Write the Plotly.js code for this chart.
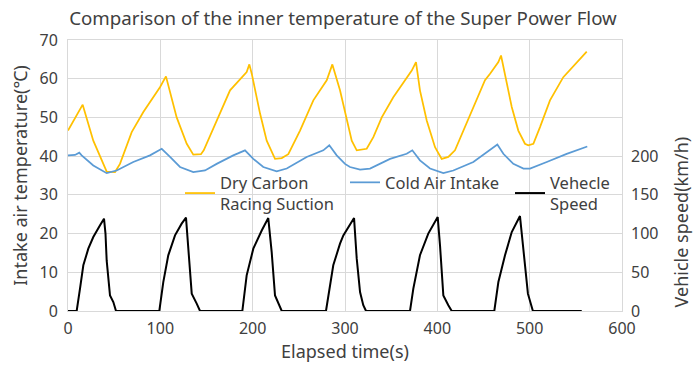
<!DOCTYPE html>
<html>
<head>
<meta charset="utf-8">
<script src="https://cdn.plot.ly/plotly-3.0.1.min.js"></script>
<style>html,body{margin:0;padding:0;background:#fff;}#chart{width:700px;height:375px;}</style>
</head>
<body>
<div id="chart"></div>
<script>
// Dry Carbon Racing Suction (intake air temperature, °C)
const dryTime = [0,15.9,27.4,41.9,50.9,56.3,69,81.6,99.6,106.1,117.7,128.6,135.7,144,147,161,175.5,193.5,196.4,199,208,215.2,224.2,231.5,238.6,251.3,265.7,280.2,286.3,294.6,301.8,307.3,312.7,323.5,330.7,339.8,352.3,366.8,372.3,376.9,381.2,388.5,397.5,404.7,411.9,419.1,428.1,439,451.6,457.1,466.1,469,473.3,480.6,487.7,494.9,498.5,504,511.2,522,536.4,550.9,561.8];
const dryTemp = [46.6,53.3,44,36,35.9,38,46.2,51.4,57.8,60.6,50,43.2,40.4,40.5,41.5,49.2,57,61.7,63.7,61.3,51,44,39.3,39.5,40.5,46.6,54.4,59.6,63.7,57,49.2,44,41.5,41.9,44.9,50,55.2,60.4,62.1,64.3,57,49.2,42.3,39.3,39.8,41.5,46.6,52.7,59.6,61.3,64.3,66,61.3,52.7,46.6,43.2,42.8,43.2,47.5,54.4,60.4,64.3,67];

// Cold Air Intake (intake air temperature, °C)
const coldTime = [0,7.6,12.2,14.8,27.4,41.9,52.7,70.7,88.8,101.5,110.5,121.3,135.7,148.4,161,179,191.7,200.7,211.5,226,236.9,258.5,276.5,283,291,300,305.4,316.3,327.1,348.8,366.8,372.9,381.2,392.1,406.5,417.3,439,451.6,457.1,465,471.5,482.3,493.3,500.4,518.5,540.1,562.4];
const coldTemp = [40.2,40.3,40.9,40.2,37.6,35.6,36.3,38.5,40.2,41.9,39.8,37.2,35.9,36.3,38,40.2,41.5,39.3,37.2,36.1,36.8,39.8,41.5,42.8,40.2,38,37.2,36.5,36.8,39.3,40.6,41.5,38.9,36.8,35.6,36.3,38.5,40.6,41.5,43,40.6,38,36.8,36.8,38.5,40.6,42.5];

// Vehicle speed (km/h)
const speedTime = [0,9.4,13,16.6,22,27.4,34.7,39,40.6,41.9,45.5,49.1,52,98.9,103.2,108.6,115.9,123.1,127.8,130.3,134,139.4,143,188.8,193.5,200.7,209.8,216.9,220.6,224.2,231.5,279.4,287.3,294.6,298.2,309.8,312.7,316.3,319.8,322.8,370.4,374,381.2,390.2,400.4,402.9,406.5,411.9,415.6,461.7,466.1,473.3,480.6,489.5,493.3,498.1,503.5,556.4];
const speedVal = [0,0,28.9,59,80.5,95.5,110.6,119.2,100,65,20,11.6,0,0,37.4,71.9,97.7,112.8,120.5,84.8,22.4,9.5,0,0,46,80.5,104,120,76,20,0,0,59,87,97.7,120,67.6,24.5,7.4,0,0,28.9,72,100,121.3,84.8,20,7.4,0,0,37.4,72,102,122.6,80.5,22.4,0,0];

const seriesNames = ['Dry Carbon<br>Racing Suction', 'Cold Air Intake', 'Vehecle<br>Speed'];
const titleText = 'Comparison of the inner temperature of the Super Power Flow';
const xTitle = 'Elapsed time(s)';
const yTitle = 'Intake air temperature(℃)';
const y2Title = 'Vehicle speed(km/h)';
const speedTicks = [0,50,100,150,200];

const FONT = 'Noto Sans, sans-serif';
const TXT = '#404040';
const GRID = '#d9d9d9';

const traces = [
  {x: dryTime, y: dryTemp, name: seriesNames[0], type: 'scatter', mode: 'lines', line: {color: '#FFC000', width: 1.75}},
  {x: coldTime, y: coldTemp, name: seriesNames[1], type: 'scatter', mode: 'lines', line: {color: '#5B9BD5', width: 1.75}},
  {x: speedTime, y: speedVal, name: seriesNames[2], type: 'scatter', mode: 'lines', yaxis: 'y2', line: {color: '#000000', width: 2}}
];

const layout = {
  width: 700, height: 375,
  margin: {l: 68, r: 78, t: 40, b: 64, pad: 0},
  paper_bgcolor: '#fff', plot_bgcolor: '#fff',
  font: {family: FONT, color: TXT, size: 16},
  title: {text: titleText, x: 0.49, xanchor: 'center', y: 0.952, yanchor: 'middle', font: {family: FONT, size: 18.7, color: TXT}},
  xaxis: {range: [0, 600], dtick: 100, tick0: 0, showgrid: true, gridcolor: GRID, zeroline: false, automargin: false,
          showline: true, mirror: true, linecolor: GRID, ticks: '', ticklabelstandoff: 3,
          tickfont: {size: 16, color: TXT}, title: {text: xTitle, font: {size: 18, color: TXT}, standoff: 7}},
  yaxis: {range: [0, 70], dtick: 10, tick0: 0, showgrid: true, gridcolor: GRID, zeroline: false, automargin: false,
          showline: true, mirror: true, linecolor: GRID, ticks: '', ticklabelstandoff: 6,
          tickfont: {size: 16, color: TXT}, title: {text: yTitle, font: {size: 18, color: TXT}, standoff: 7}},
  yaxis2: {range: [0, 350], overlaying: 'y', side: 'right', tickvals: speedTicks, showgrid: false, zeroline: false, automargin: false,
           showline: false, ticks: '', ticklabelstandoff: 8, tickfont: {size: 16, color: TXT}},
  annotations: [
    {text: y2Title, textangle: -90, xref: 'paper', yref: 'paper', x: (681 - 68) / 554, y: 0.327,
     xanchor: 'center', yanchor: 'middle', showarrow: false, font: {family: FONT, size: 18, color: TXT}}
  ],
  showlegend: true,
  legend: {orientation: 'h', x: (180 - 68) / 554, y: 0.435, xanchor: 'left', yanchor: 'middle', bgcolor: 'rgba(255,255,255,0)',
           font: {size: 16.5, color: TXT}, itemwidth: 30, tracegroupgap: 0, entrywidth: 120, entrywidthmode: 'pixels'}
};

Plotly.newPlot('chart', traces, layout, {displayModeBar: false, staticPlot: true});
</script>
</body>
</html>
